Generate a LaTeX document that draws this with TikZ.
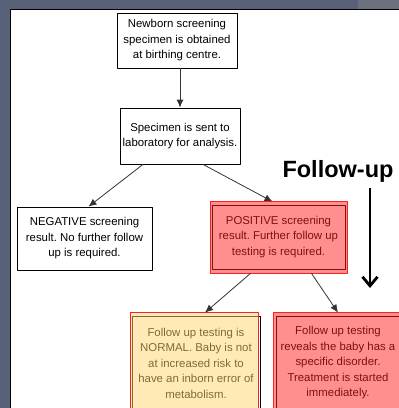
\documentclass[tikz,border=0pt]{standalone}
\usepackage{fontspec}
\setmainfont{Liberation Sans}
\frenchspacing
\usetikzlibrary{positioning,arrows.meta,calc}
\definecolor{framegray}{HTML}{596178}
\definecolor{framelight}{HTML}{6C717D}
\definecolor{hlred}{HTML}{FF1F1F}
\definecolor{hlyellow}{HTML}{FFD56C}
\definecolor{arrowgray}{HTML}{333333}
\tikzset{
  stepbox/.style={draw=black,line width=0.8pt,fill=white,align=center,inner sep=2pt,
    font=\fontsize{11.4}{15.5}\selectfont},
  hlbox/.style={draw=hlred,line width=1pt,fill=#1,fill opacity=0.5},
}

\begin{document}
\begin{tikzpicture}[x=1pt,y=-1pt,>={Latex[length=8pt,width=7pt]},line join=bevel]
\useasboundingbox (0,0) rectangle (399,408);
\clip (0,0) rectangle (399,408);
%% frame
  \fill [framegray] (0,0) rectangle (399,408);
  \fill [framelight] (358,0) rectangle (399,9);
  \fill [white] (10,9) rectangle (399,408);
  \draw [black,line width=1.5pt] (10.5,408) -- (10.5,9.5) -- (399,9.5);
%%
  \node (node_0) at (177,40.5) [stepbox,minimum width=120pt,minimum height=55pt] {Newborn screening\\specimen is obtained\\at birthing centre.};

  \node (node_1) at (180,136) [stepbox,minimum width=120pt,minimum height=56pt] {Specimen is sent to\\laboratory for analysis.};

  \node (node_2) at (84.5,238.5) [stepbox,minimum width=135pt,minimum height=63pt] {NEGATIVE screening\\result. No further follow\\up is required.};

  \node (node_3) at (278.5,237) [stepbox,minimum width=133pt,minimum height=64pt] {POSITIVE screening\\result. Further follow up\\testing is required.};

  \node (node_4) at (196,363) [stepbox,minimum width=128pt,minimum height=94pt] {Follow up testing is\\NORMAL. Baby is not\\at increased risk to\\have an inborn error of\\metabolism.};

  \node (node_5) at (338,363) [stepbox,minimum width=124pt,minimum height=94pt] {Follow up testing\\reveals the baby has a\\specific disorder.\\Treatment is started\\immediately.};

  \node (node_followup) at (338,171) [font=\fontsize{23.5}{23.5}\selectfont\bfseries] {Follow-up};
  \coordinate (followup_top) at (370,188);
  \coordinate (followup_tip) at (370,288);
%% highlights
  \draw [hlbox=hlred] ($(node_3.north west)+(-1,-3)$) rectangle ($(node_3.south east)+(2,4)$);
  \draw [hlbox=hlyellow] ($(node_4.north west)+(-1,-3)$) rectangle ($(node_4.south east)+(-2,4)$);
  \draw [hlbox=hlred] ($(node_5.north west)+(-2,-3)$) rectangle ($(node_5.south east)+(2,4)$);
%%
  \draw [arrowgray,line width=0.8pt,->] (node_0.south -| node_1.north) to (node_1.north);
  \draw [arrowgray,line width=0.8pt,->] ([xshift=-37pt]node_1.south) to ([xshift=4pt]node_2.north);
  \draw [arrowgray,line width=0.8pt,->] ([xshift=23pt]node_1.south) to ([xshift=-6pt,yshift=3pt]node_3.north);
  \draw [arrowgray,line width=0.8pt,->] ([xshift=-28pt,yshift=-4pt]node_3.south) to ([xshift=9pt,yshift=3pt]node_4.north);
  \draw [arrowgray,line width=0.8pt,->] ([xshift=33pt,yshift=-4pt]node_3.south) to ([yshift=3pt]node_5.north);
  \draw [black,line width=2.8pt,-{Straight Barb[length=9pt,width=15pt]}] (followup_top) -- (followup_tip);
%
\end{tikzpicture}
\end{document}
